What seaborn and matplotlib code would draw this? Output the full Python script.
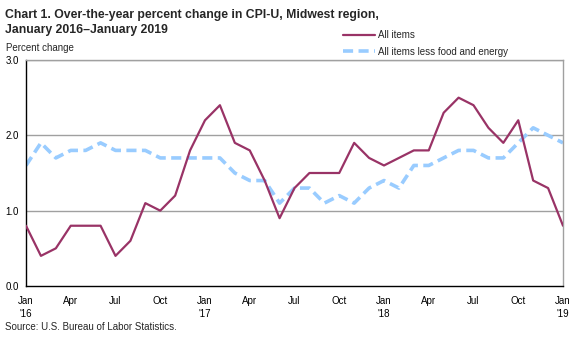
import matplotlib
matplotlib.use("Agg")
import matplotlib.pyplot as plt
import seaborn as sns
import pandas as pd
import numpy as np

months = ["Jan 2016","Feb 2016","Mar 2016","Apr 2016","May 2016","Jun 2016","Jul 2016","Aug 2016","Sep 2016","Oct 2016","Nov 2016","Dec 2016",
          "Jan 2017","Feb 2017","Mar 2017","Apr 2017","May 2017","Jun 2017","Jul 2017","Aug 2017","Sep 2017","Oct 2017","Nov 2017","Dec 2017",
          "Jan 2018","Feb 2018","Mar 2018","Apr 2018","May 2018","Jun 2018","Jul 2018","Aug 2018","Sep 2018","Oct 2018","Nov 2018","Dec 2018",
          "Jan 2019"]
all_items = [0.8, 0.4, 0.5, 0.8, 0.8, 0.8, 0.4, 0.6, 1.1, 1.0, 1.2, 1.8,
             2.2, 2.4, 1.9, 1.8, 1.4, 0.9, 1.3, 1.5, 1.5, 1.5, 1.9, 1.7,
             1.6, 1.7, 1.8, 1.8, 2.3, 2.5, 2.4, 2.1, 1.9, 2.2, 1.4, 1.3,
             0.8]
core = [1.6, 1.9, 1.7, 1.8, 1.8, 1.9, 1.8, 1.8, 1.8, 1.7, 1.7, 1.7,
        1.7, 1.7, 1.5, 1.4, 1.4, 1.1, 1.3, 1.3, 1.1, 1.2, 1.1, 1.3,
        1.4, 1.3, 1.6, 1.6, 1.7, 1.8, 1.8, 1.7, 1.7, 1.9, 2.1, 2.0,
        1.9]
tick_labels = ["Jan\n'16", "Apr", "Jul", "Oct", "Jan\n'17", "Apr", "Jul", "Oct",
               "Jan\n'18", "Apr", "Jul", "Oct", "Jan\n'19"]
y_ticks = [0.0, 1.0, 2.0, 3.0]
series_names = ["All items", "All items less food and energy"]

sns.set_theme(style="white")
plt.rcParams['font.family'] = ['Liberation Sans', 'DejaVu Sans']

df = pd.DataFrame({"idx": np.arange(len(months)), "month": months,
                   series_names[0]: all_items, series_names[1]: core})

fig = plt.figure(figsize=(5.8, 3.37), dpi=100)
ax = fig.add_axes([26/580, 1-286/337, (563-26)/580, (286-60)/337])

grid_c = "#a0a0a0"
small = 7.0
for yv in y_ticks[1:]:
    ax.axhline(yv, color=grid_c, lw=1.0, zorder=0)

sns.lineplot(data=df, x="idx", y=series_names[1], ax=ax, color="#99ccff",
             lw=2.6, label=series_names[1], zorder=2)
ax.lines[-1].set_dashes([2.8, 1.5])
sns.lineplot(data=df, x="idx", y=series_names[0], ax=ax, color="#993366",
             lw=1.6, label=series_names[0], zorder=3)

ax.set_xlim(0, len(months) - 1)
ax.set_ylim(0, 3.0)
ax.set_xlabel("")
ax.set_ylabel("")
ax.set_yticks(y_ticks)
ax.set_yticklabels([f"{v:.1f}" for v in y_ticks], fontsize=small, color="black")
ax.set_xticks(np.arange(0, len(months), 3))
ax.set_xticklabels(tick_labels, fontsize=small, color="black", linespacing=1.45)
ax.set_xticks(np.arange(len(months)), minor=True)
ax.tick_params(axis="x", which="both", direction="inout", length=6, width=0.8,
               color="black", pad=4)
ax.tick_params(axis="y", which="both", length=0, pad=5)

for s in ["left", "bottom"]:
    ax.spines[s].set_color("black")
    ax.spines[s].set_linewidth(1.0)
for s in ["top", "right"]:
    ax.spines[s].set_color(grid_c)
    ax.spines[s].set_linewidth(1.0)

handles, labels = ax.get_legend_handles_labels()
order = [labels.index(series_names[0]), labels.index(series_names[1])]
ax.legend([handles[i] for i in order], [labels[i] for i in order],
          loc="upper left", bbox_to_anchor=(343/580, 1-30/337),
          bbox_transform=fig.transFigure, frameon=False, fontsize=small,
          handlelength=3.3, handletextpad=0.3, labelspacing=0.7,
          borderaxespad=0, borderpad=0)

fig.text(5/580, 1-9/337, "Chart 1. Over-the-year percent change in CPI-U, Midwest region,\nJanuary 2016\u2013January 2019",
         fontsize=8.8, fontweight="bold", va="top", ha="left", linespacing=1.3)
fig.text(6/580, 1-43/337, "Percent change", fontsize=small, va="top", ha="left")
fig.text(5/580, 1-322/337, "Source: U.S. Bureau of Labor Statistics.", fontsize=small, va="top", ha="left")

fig.savefig("out.png", dpi=100)
